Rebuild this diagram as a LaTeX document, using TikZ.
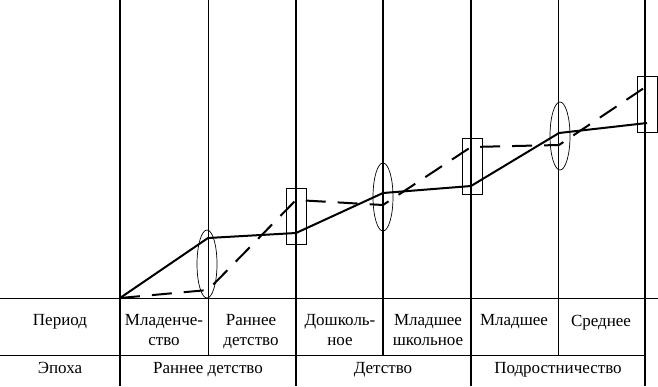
\documentclass[tikz,border=0pt]{standalone}
\usepackage{fontspec}
\setmainfont{Liberation Serif}
\usetikzlibrary{calc}
\tikzset{
    grid/.style={line width=0.9pt},
    growth/.style={line width=2pt, line join=round},
    growthdash/.style={growth, dash pattern=on 20pt off 12pt},
    crisis/.style={line width=0.7pt},
    cell/.style={font=\fontsize{17}{20}\selectfont, align=center, anchor=base, inner sep=0pt}
}

\begin{document}
\begin{tikzpicture}[x=1pt,y=-1pt]
\useasboundingbox (0,0) rectangle (658,386);
% table
\draw[grid] (0,298) -- (658,298);
\draw[grid] (0,355) -- (645,355);
\foreach \x/\w/\b in {120/1.4/386, 208/0.9/355, 296/1.8/386, 383/1.8/355, 471/1.4/386, 558/0.9/355, 645/1.4/386}{
    \draw[line width=\w pt] (\x,0) -- (\x,\b);
}
% periods (base = last line)
\foreach \x/\y/\p/\labeltext in {60/325/period/{Период}, 164/345/infancy/{Младенче-\\ство}, 251/345/early/{Раннее\\детство}, 340/345/preschool/{Дошколь-\\ное}, 428/345/school/{Младшее\\школьное}, 514/325/teen/{Младшее}, 601/326/midteen/{Среднее}}{
    \node[cell] (\p) at (\x,\y) {\labeltext};
}
% epochs
\foreach \x/\p/\labeltext in {60/epoch/{Эпоха}, 208/earlychild/{Раннее детство}, 383/child/{Детство}, 558/adolescence/{Подростничество}}{
    \node[cell] (\p) at (\x,373) {\labeltext};
}
% development lines
\foreach \i/\x/\ys/\yd in {0/120/298/298, 1/208/238/290, 2/296/233/200, 3/383/193/205, 4/471/186/147, 5/559/133/145, 6/647/123/86}{
    \coordinate (s\i) at (\x,\ys);
    \coordinate (d\i) at (\x,\yd);
}
\draw[growth] (s0) -- (s1) -- (s2) -- (s3) -- (s4) -- (s5) -- (s6);
\draw[growthdash] (d0) -- (d1) -- (d2) -- (d3) -- (d4) -- (d5) -- (d6);
% crises
\foreach \x/\y in {207/264, 383/197, 560/136}{
    \draw[crisis] (\x,\y) ellipse [x radius=10pt, y radius=34pt];
}
\foreach \x/\y in {296/216, 472/166, 647/104}{
    \draw[crisis] ($(\x,\y)+(-10,-28)$) rectangle ($(\x,\y)+(10,28)$);
}
\end{tikzpicture}
\end{document}
